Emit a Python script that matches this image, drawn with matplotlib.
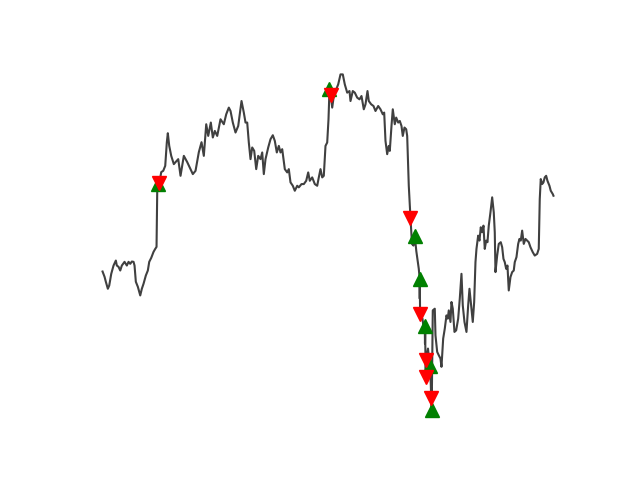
import matplotlib
matplotlib.use('Agg')
import matplotlib.pyplot as plt
import numpy as np

# time step (trading-time units) and closing price
t = [0, 2, 3.3, 5.3, 6.7, 8.7, 11, 13.3, 14.3, 16, 17.7, 19.3, 22, 24.3, 26, 27.7, 29.3, 31, 32, 33.3,
     35.3, 37.7, 39.3, 41, 43.3, 45.3, 46.7, 48.7, 51, 52.7, 54, 54.7, 55.2, 56.8, 58.7, 60.7, 62.7, 64.3,
     65.3, 66.7, 68.7, 70.3, 71.3, 73, 75.7, 78, 81.3, 84.7, 88, 90.3, 93, 96.3, 99, 101.3, 103.7, 105.7,
     108.3, 110.3, 112.3, 114.7, 118, 121.3, 123.7, 126.3, 128, 130.3, 133, 135.7, 139, 141.3, 143, 144.7,
     146.3, 148, 149.7, 151.7, 153.7, 155.7, 158, 159.7, 161.3, 163, 165.7, 168, 170.3, 172.3, 174.3,
     176.3, 178, 179.7, 182.3, 184.7, 186.3, 188, 190.3, 192.3, 194.7, 196.3, 199, 201.3, 203.7, 205.7,
     207.3, 209.7, 212.3, 214.7, 216.3, 218, 219.7, 221.3, 223, 224.7, 226, 227, 228.3, 229.7, 231.3, 233,
     235.7, 238, 240.3, 242.3, 244.7, 247, 248, 250.3, 252.3, 254.7, 257, 259, 261.3, 263, 265, 266.3,
     268.7, 271, 273, 275.7, 278, 280.3, 281.7, 283, 284.7, 286.3, 287.3, 289, 290.3, 292.3, 293.7, 295.7,
     297.3, 299, 300.3, 302, 303.7, 304.7, 306.3, 308, 309.5, 311, 312.3, 313.8, 315.2, 316.3, 317.2,
     317.3, 317.4, 317.5, 317.6, 320, 321.5, 322.3, 322.5, 322.7, 323, 323.2, 323.6, 325.5, 327.3, 328.3,
     328.7, 329, 329.2, 329.7, 330.3, 332.3, 333, 334.7, 336.3, 338, 339, 340.7, 342.3, 344, 345.3, 346.3,
     348, 349, 350.3, 352, 353.7, 355.7, 357.3, 359, 360.3, 362, 364, 365.7, 367, 368.7, 370.3, 371.7, 373,
     374, 375.7, 377, 378.3, 379.7, 381, 382.3, 383.7, 385, 386.3, 388, 389.7, 391.3, 392.3, 393, 394.7,
     396.3, 398.3, 399.7, 401, 402.3, 403.7, 405, 406.3, 408, 409.7, 411.3, 412.3, 414, 415.7, 417, 418.3,
     419.7, 421.3, 423, 424.7, 426.3, 428, 430.3, 432.3, 434.7, 436.3, 437.3, 438.3, 439.7, 441, 442.3,
     443.7, 445, 447, 448.3, 450.3, 451]
price = [227.3, 222, 217, 210, 213.3, 225, 233.3, 238.3, 233.3, 232, 228.3, 233.3, 237, 233.3, 237, 235,
         237.3, 237, 233.3, 217, 212, 203.3, 210, 215, 223.3, 228.3, 237, 241, 247, 250, 252, 308.3, 315,
         316, 327, 328.3, 333.3, 357, 366, 353.3, 343.3, 338.3, 335, 337, 340, 323.3, 343.3, 337, 330, 325,
         328.3, 347, 357, 343.3, 375, 363.3, 376.7, 361.7, 368.3, 363.3, 380, 375, 385, 391.7, 388.3, 376.7,
         366.7, 373.3, 398.3, 386.7, 376.7, 376.7, 356.7, 340, 351.7, 348.3, 330, 343.3, 340, 346.7, 325,
         340, 351.7, 360, 364, 358.3, 346.7, 353.3, 346.7, 350, 330, 326.7, 330, 316.7, 313.3, 308.3, 313.3,
         311.7, 315, 315, 318.3, 326.7, 318.3, 321.7, 315, 313.3, 321.7, 330, 321.7, 323.3, 353.3, 356.7,
         380, 410, 404, 391.7, 403.3, 408.3, 415, 425, 425, 415, 406.7, 408.3, 398.3, 408.3, 406.7, 401.7,
         400, 403.3, 390, 395, 408.3, 398.3, 395, 393.3, 388.3, 393.3, 390, 385, 386.7, 358.3, 345, 353.3,
         348.3, 373.3, 390, 375, 381.7, 376.7, 378.3, 373.3, 363.3, 371.7, 370, 363.3, 313.3, 281, 255,
         253.3, 263, 248, 238, 230, 220, 200, 212, 192, 185, 180, 168, 173, 155, 165, 142, 122, 139, 150,
         133, 115, 100, 110, 88, 134, 188.3, 190, 163.3, 146.7, 143.3, 140, 131.7, 160, 170, 183.3, 180,
         188.3, 176.7, 196.7, 190, 166.7, 168.3, 180, 200, 225, 193.3, 176.7, 166.7, 193.3, 210, 193.3,
         176.7, 196.7, 236.7, 250, 263.3, 258.3, 271.7, 266.7, 273.3, 250, 258.3, 256.7, 273.3, 286.7,
         301.7, 286.7, 266.7, 226.7, 243.3, 255, 256.7, 251.7, 240, 236.7, 230, 233.3, 208.3, 221.7, 226.7,
         228.3, 236.7, 241.7, 255, 260, 258.3, 268.3, 255, 260, 258.3, 256.7, 251.7, 246.7, 243.3, 245, 250,
         300, 320, 315, 316.7, 321.7, 323.3, 318.3, 313.3, 308.3, 305, 303.3]

# trade signals (times)
buy_t = [55.2, 227, 312.3, 317.2, 322.3, 327.3, 329.2]
sell_t = [56.8, 228.3, 308, 317.6, 323.2, 323.6, 328.7]

t = np.array(t)
price = np.array(price)
buy_mask = np.isin(t, buy_t)
sell_mask = np.isin(t, sell_t)

fig, ax = plt.subplots(figsize=(6.4, 4.8), dpi=100)
ax.plot(t, price, color='0.25', lw=1.5)
ax.plot(t[buy_mask], price[buy_mask], '^', color='g', markersize=10)
ax.plot(t[sell_mask], price[sell_mask], 'v', color='r', markersize=10)
ax.axis('off')

plt.savefig('out.png')
